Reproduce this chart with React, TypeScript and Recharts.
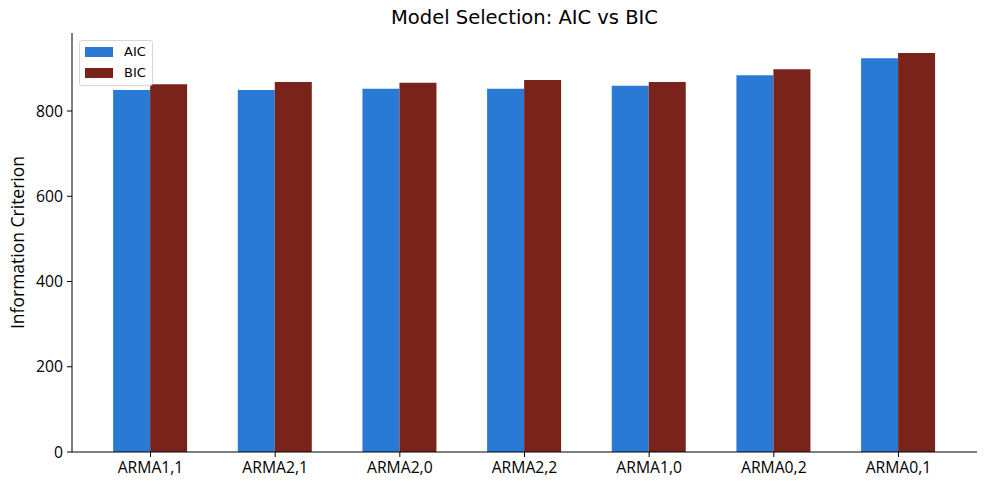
import { Bar, BarChart, XAxis, YAxis } from "recharts";

const models = ["ARMA1,1", "ARMA2,1", "ARMA2,0", "ARMA2,2", "ARMA1,0", "ARMA0,2", "ARMA0,1"];
const aic = [849, 849, 852, 852, 859, 884, 924];
const bic = [863, 868, 866, 873, 868, 898, 936];
const yTicks = [0, 200, 400, 600, 800];

const AIC_COLOR = "#2a7ad5";
const BIC_COLOR = "#7a231b";

const data = models.map((model, i) => ({ model, AIC: aic[i], BIC: bic[i] }));

const tickFont = { fontFamily: "'Open Sans', sans-serif", fontSize: 15.7, fill: "#000" };

function LegendBox() {
  const items = [
    { name: "AIC", color: AIC_COLOR },
    { name: "BIC", color: BIC_COLOR },
  ];
  return (
    <div
      style={{
        position: "absolute",
        left: 79,
        top: 40,
        width: 72,
        height: 44,
        border: "1px solid #d6d6d6",
        borderRadius: 3,
        background: "rgba(255,255,255,0.8)",
      }}
    >
      {items.map((it, i) => (
        <div
          key={it.name}
          style={{ position: "absolute", left: 5, top: 6 + i * 21, display: "flex", alignItems: "center" }}
        >
          <span style={{ display: "inline-block", width: 28, height: 10, background: it.color }} />
          <span
            style={{
              marginLeft: 11,
              fontFamily: "'DejaVu Sans', sans-serif",
              fontSize: 13,
              lineHeight: "10px",
              color: "#000",
            }}
          >
            {it.name}
          </span>
        </div>
      ))}
    </div>
  );
}

export default function App() {
  return (
    <div style={{ position: "absolute", left: 0, top: 0, width: 987, height: 487, background: "#fff" }}>
      <div
        style={{
          position: "absolute",
          left: 72,
          width: 905,
          top: 6,
          textAlign: "center",
          fontFamily: "'DejaVu Sans', sans-serif",
          fontSize: 19.5,
          color: "#000",
        }}
      >
        Model Selection: AIC vs BIC
      </div>
      <BarChart
        width={987}
        height={487}
        data={data}
        margin={{ top: 33, right: 10, left: 0, bottom: 0 }}
        barCategoryGap="20%"
        barGap={0}
      >
        <XAxis
          dataKey="model"
          height={35}
          padding={{ left: 16.2, right: 16.2 }}
          axisLine={{ stroke: "#000", strokeWidth: 1 }}
          tickLine={{ stroke: "#000" }}
          tickSize={5}
          tickMargin={5}
          tick={tickFont}
          interval={0}
        />
        <YAxis
          width={72}
          domain={[0, 983]}
          ticks={yTicks}
          allowDataOverflow
          axisLine={{ stroke: "#000", strokeWidth: 1 }}
          tickLine={{ stroke: "#000" }}
          tickSize={5}
          tickMargin={4}
          tick={tickFont}
          label={{
            value: "Information Criterion",
            angle: -90,
            position: "insideLeft",
            offset: 18,
            style: { textAnchor: "middle", fontFamily: "'Open Sans', sans-serif", fontSize: 17.5, fill: "#000" },
          }}
        />
        <Bar dataKey="AIC" fill={AIC_COLOR} isAnimationActive={false} />
        <Bar dataKey="BIC" fill={BIC_COLOR} isAnimationActive={false} />
      </BarChart>
      <LegendBox />
    </div>
  );
}
